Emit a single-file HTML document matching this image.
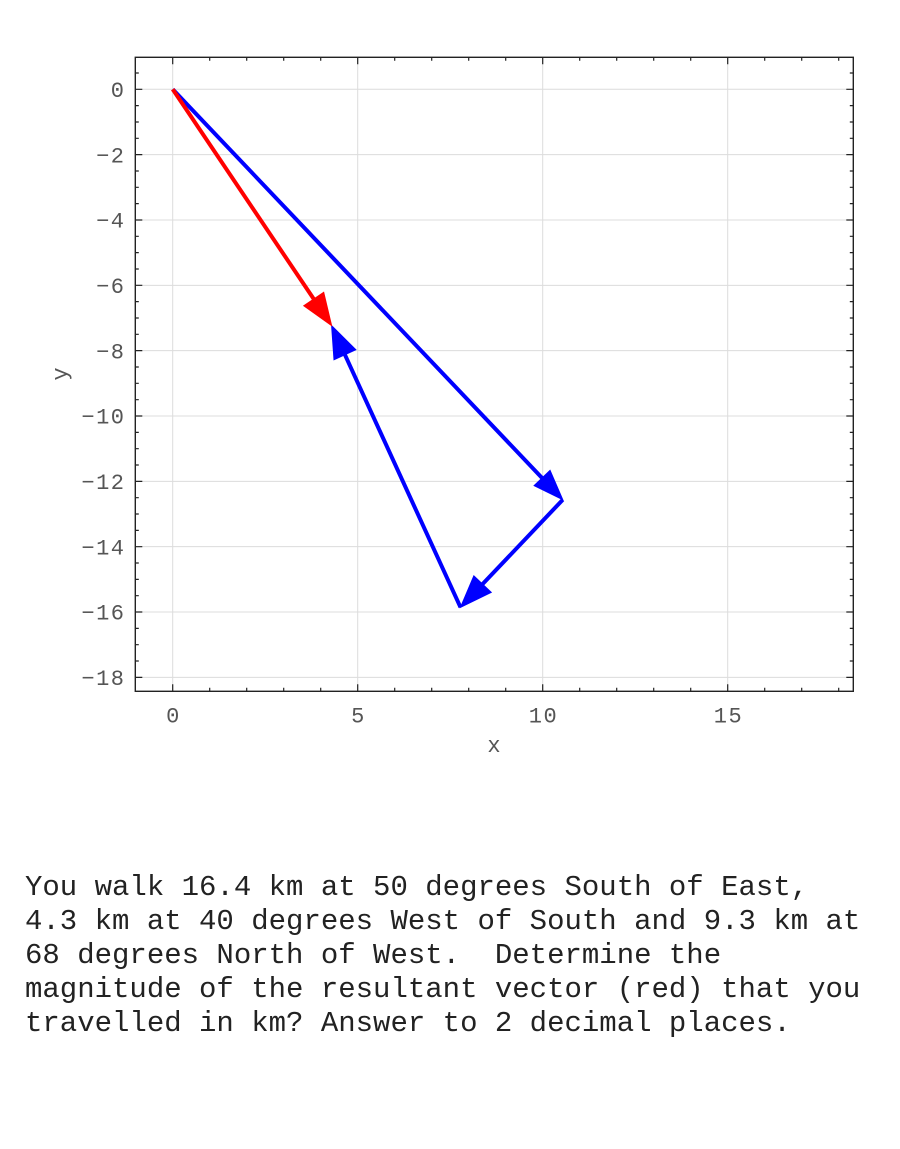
<!DOCTYPE html>
<html>
<head>
<meta charset="utf-8">
<style>
html,body{margin:0;padding:0;background:#fff;}
svg{display:block;}
</style>
</head>
<body>
<svg width="900" height="1149" viewBox="0 0 900 1149" xmlns="http://www.w3.org/2000/svg">
<rect x="0" y="0" width="900" height="1149" fill="#fff"/>
<!-- grid -->
<g stroke="#dcdcdc" stroke-width="1" fill="none">
<path d="M172.7 57.3V691.3M357.7 57.3V691.3M542.7 57.3V691.3M727.7 57.3V691.3"/>
<path d="M135.3 89.3H853.3M135.3 154.64H853.3M135.3 219.98H853.3M135.3 285.32H853.3M135.3 350.66H853.3M135.3 416H853.3M135.3 481.34H853.3M135.3 546.68H853.3M135.3 612.02H853.3M135.3 677.36H853.3"/>
</g>
<!-- ticks -->
<g stroke="#222" stroke-width="1.2" fill="none">
<path d="M172.7 691.3v-7M357.7 691.3v-7M542.7 691.3v-7M727.7 691.3v-7"/>
<path d="M172.7 57.3v7M357.7 57.3v7M542.7 57.3v7M727.7 57.3v7"/>
<path d="M209.7 691.3v-3.5M246.7 691.3v-3.5M283.7 691.3v-3.5M320.7 691.3v-3.5M394.7 691.3v-3.5M431.7 691.3v-3.5M468.7 691.3v-3.5M505.7 691.3v-3.5M579.7 691.3v-3.5M616.7 691.3v-3.5M653.7 691.3v-3.5M690.7 691.3v-3.5M764.7 691.3v-3.5M801.7 691.3v-3.5M838.7 691.3v-3.5"/>
<path d="M209.7 57.3v3.5M246.7 57.3v3.5M283.7 57.3v3.5M320.7 57.3v3.5M394.7 57.3v3.5M431.7 57.3v3.5M468.7 57.3v3.5M505.7 57.3v3.5M579.7 57.3v3.5M616.7 57.3v3.5M653.7 57.3v3.5M690.7 57.3v3.5M764.7 57.3v3.5M801.7 57.3v3.5M838.7 57.3v3.5"/>
<path d="M135.3 89.3h7M135.3 154.64h7M135.3 219.98h7M135.3 285.32h7M135.3 350.66h7M135.3 416h7M135.3 481.34h7M135.3 546.68h7M135.3 612.02h7M135.3 677.36h7"/>
<path d="M853.3 89.3h-7M853.3 154.64h-7M853.3 219.98h-7M853.3 285.32h-7M853.3 350.66h-7M853.3 416h-7M853.3 481.34h-7M853.3 546.68h-7M853.3 612.02h-7M853.3 677.36h-7"/>
<path d="M135.3 72.97h3.5M135.3 105.64h3.5M135.3 121.97h3.5M135.3 138.31h3.5M135.3 170.98h3.5M135.3 187.31h3.5M135.3 203.65h3.5M135.3 236.32h3.5M135.3 252.65h3.5M135.3 268.99h3.5M135.3 301.66h3.5M135.3 317.99h3.5M135.3 334.33h3.5M135.3 367h3.5M135.3 383.33h3.5M135.3 399.67h3.5M135.3 432.34h3.5M135.3 448.67h3.5M135.3 465.01h3.5M135.3 497.68h3.5M135.3 514.01h3.5M135.3 530.35h3.5M135.3 563.02h3.5M135.3 579.35h3.5M135.3 595.69h3.5M135.3 628.36h3.5M135.3 644.69h3.5M135.3 661.03h3.5"/>
<path d="M853.3 72.97h-3.5M853.3 105.64h-3.5M853.3 121.97h-3.5M853.3 138.31h-3.5M853.3 170.98h-3.5M853.3 187.31h-3.5M853.3 203.65h-3.5M853.3 236.32h-3.5M853.3 252.65h-3.5M853.3 268.99h-3.5M853.3 301.66h-3.5M853.3 317.99h-3.5M853.3 334.33h-3.5M853.3 367h-3.5M853.3 383.33h-3.5M853.3 399.67h-3.5M853.3 432.34h-3.5M853.3 448.67h-3.5M853.3 465.01h-3.5M853.3 497.68h-3.5M853.3 514.01h-3.5M853.3 530.35h-3.5M853.3 563.02h-3.5M853.3 579.35h-3.5M853.3 595.69h-3.5M853.3 628.36h-3.5M853.3 644.69h-3.5M853.3 661.03h-3.5"/>
</g>
<!-- frame -->
<rect x="135.3" y="57.3" width="718" height="634" fill="none" stroke="#222" stroke-width="1.4"/>

<!-- tick labels -->
<g font-family="'Liberation Mono', monospace" font-size="22" fill="#555">
<g text-anchor="middle" letter-spacing="1.5">
<text x="173.5" y="722.5">0</text>
<text x="358.5" y="722.5">5</text>
<text x="543.5" y="722.5">10</text>
<text x="728.5" y="722.5">15</text>
</g>
<g text-anchor="end" letter-spacing="1.5">
<text x="125.5" y="97">0</text>
<text x="125.5" y="162.3">−2</text>
<text x="125.5" y="227.7">−4</text>
<text x="125.5" y="293">−6</text>
<text x="125.5" y="358.4">−8</text>
<text x="125.5" y="423.7">−10</text>
<text x="125.5" y="489">−12</text>
<text x="125.5" y="554.4">−14</text>
<text x="125.5" y="619.7">−16</text>
<text x="125.5" y="685.1">−18</text>
</g>
<text x="494" y="752" text-anchor="middle">x</text>
<text x="0" y="0" text-anchor="middle" transform="translate(67,374) rotate(-90)">y</text>
</g>

<!-- vectors -->
<g stroke-width="4" stroke-linecap="butt" fill="none">
<line x1="172.7" y1="89.3" x2="542.08" y2="477.98" stroke="#0000ff"/>
<line x1="562.75" y1="499.73" x2="482.54" y2="584.15" stroke="#0000ff"/>
<line x1="460.5" y1="607.35" x2="344.91" y2="354.7" stroke="#0000ff"/>
</g>
<g fill="#0000ff" stroke="#0000ff" stroke-width="1" stroke-linejoin="miter">
<polygon points="562.75,499.73 534.11,485.56 550.05,470.40"/>
<polygon points="460.5,607.35 473.84,575.88 491.24,592.42"/>
<polygon points="331.6,325.6 355.82,349.71 334.0,359.69"/>
</g>
<line x1="172.7" y1="89.3" x2="313.74" y2="299.05" stroke="#ff0000" stroke-width="4"/>
<polygon points="331.6,325.6 303.78,305.75 323.7,292.35" fill="#ff0000" stroke="#ff0000" stroke-width="1"/>

<!-- question text -->
<g font-family="'Liberation Mono', monospace" font-size="29" fill="#222">
<text x="25" y="895" xml:space="preserve">You walk 16.4 km at 50 degrees South of East,</text>
<text x="25" y="929" xml:space="preserve">4.3 km at 40 degrees West of South and 9.3 km at</text>
<text x="25" y="963" xml:space="preserve">68 degrees North of West.  Determine the</text>
<text x="25" y="997" xml:space="preserve">magnitude of the resultant vector (red) that you</text>
<text x="25" y="1031" xml:space="preserve">travelled in km? Answer to 2 decimal places.</text>
</g>
</svg>
</body>
</html>
